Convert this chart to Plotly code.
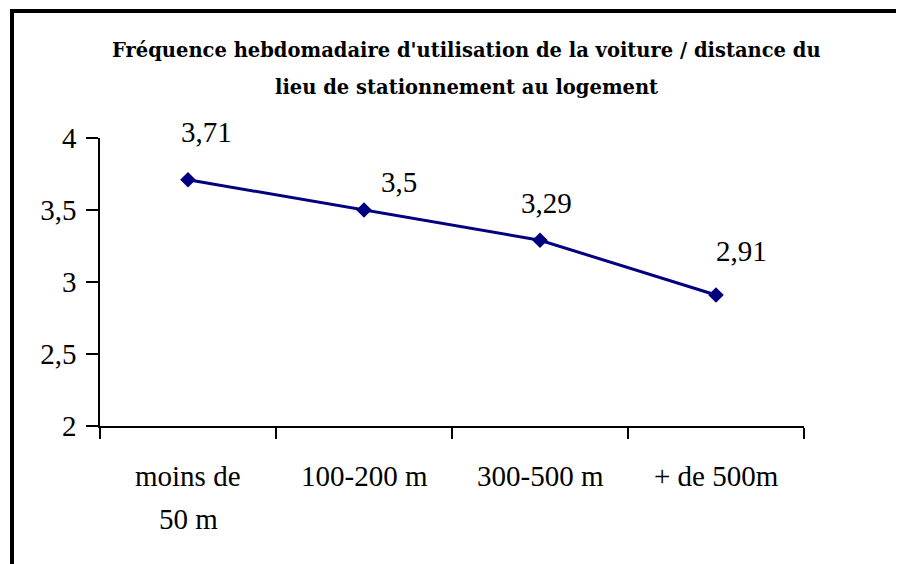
import plotly.graph_objects as go

categories = ["moins de<br>50 m", "100-200 m", "300-500 m", "+ de 500m"]
values = [3.71, 3.5, 3.29, 2.91]
value_labels = ["3,71", "3,5", "3,29", "2,91"]
title_lines = ["Fréquence hebdomadaire d'utilisation de la voiture / distance du",
               "lieu de stationnement au logement"]

# label offsets (px) relative to each point
label_dx = [18, 35, 6, 25]
label_dy = [48, 28, 37, 44]

OFF = 8  # page body margin
W, H = 904 - OFF, 564 - OFF
L, R, T, B = 100 - OFF, 100, 138 - OFF, 138
pw, ph = W - L - R, H - T - B

def px_x(p):
    return (p - OFF - L) / pw

def px_y(p):
    return (H - B - (p - OFF)) / ph

fig = go.Figure()
fig.add_trace(go.Scatter(
    x=categories, y=values, mode="lines+markers",
    line=dict(color="#000080", width=3),
    marker=dict(symbol="diamond", size=12, color="#000080"),
    hoverinfo="skip", showlegend=False,
))

text_font = dict(family="Liberation Serif", size=29, color="#000000")
for i, (c, v, t) in enumerate(zip(categories, values, value_labels)):
    fig.add_annotation(x=c, y=v, xref="x", yref="y", text=t, showarrow=False,
                       xshift=label_dx[i], yshift=label_dy[i], font=text_font)

# category labels (two-line labels with the original wide line spacing)
for c in categories:
    for j, part in enumerate(c.split("<br>")):
        fig.add_annotation(x=c, y=px_y(476 + 43 * j), xref="x", yref="paper",
                           text=part, showarrow=False, xanchor="center",
                           yanchor="middle", font=text_font)

title_font = dict(family="DejaVu Serif", size=19.5, color="#000000")
for line, ypx in zip(title_lines, [50, 88]):
    fig.add_annotation(x=px_x(466), y=px_y(ypx), xref="paper", yref="paper",
                       text="<b>" + line + "</b>", showarrow=False,
                       xanchor="center", yanchor="middle", font=title_font)

# outer frame
fig.add_shape(type="rect", xref="paper", yref="paper",
              x0=px_x(12), x1=px_x(960), y0=px_y(620), y1=px_y(11),
              line=dict(color="#000000", width=4), fillcolor="rgba(0,0,0,0)")

fig.update_layout(
    width=W, height=H,
    margin=dict(l=L, r=R, t=T, b=B, pad=0, autoexpand=False),
    paper_bgcolor="white", plot_bgcolor="white",
    separators=", ",
    showlegend=False,
    font=dict(family="Liberation Serif", size=29, color="#000000"),
)
fig.update_xaxes(
    type="category", categoryorder="array", categoryarray=categories,
    range=[-0.5, len(categories) - 0.5], tickson="boundaries",
    ticks="outside", ticklen=11, tickwidth=1.5, tickcolor="#000000",
    showline=True, linecolor="#000000", linewidth=1.5,
    showgrid=False, zeroline=False, showticklabels=False,
)
fig.update_yaxes(
    range=[2, 4], dtick=0.5, tick0=2,
    ticks="outside", ticklen=12, tickwidth=1.5, tickcolor="#000000",
    showline=True, linecolor="#000000", linewidth=1.5,
    showgrid=False, zeroline=False, ticklabelstandoff=4,
    tickfont=dict(family="Liberation Serif", size=29, color="#000000"),
)

fig.write_html("out.html")
